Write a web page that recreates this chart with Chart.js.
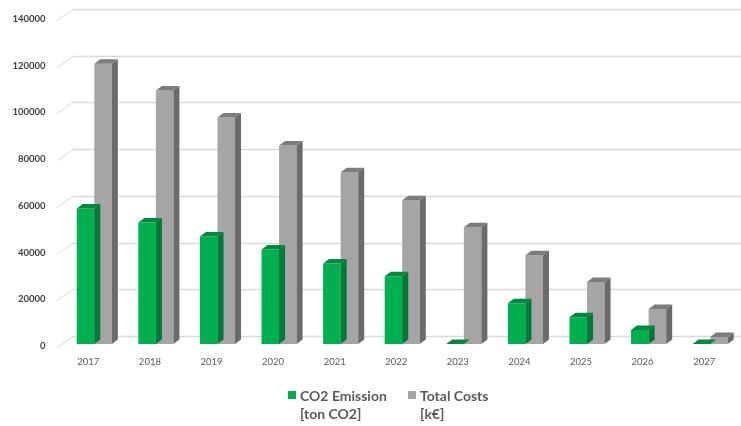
<!DOCTYPE html>
<html>
<head>
<meta charset="utf-8">
<script src="https://cdn.jsdelivr.net/npm/chart.js@4.4.0/dist/chart.umd.min.js"></script>
<style>
html, body { margin: 0; padding: 0; background: #fff; }
</style>
</head>
<body>
<canvas id="chartcanvas" width="741" height="426"></canvas>
<script>
var years = ["2017","2018","2019","2020","2021","2022","2023","2024","2025","2026","2027"];
var co2Emission = [58000, 52000, 46000, 40500, 34500, 29000, 0, 17500, 11500, 6000, 0];
var totalCosts = [120000, 108500, 97000, 85000, 73500, 61500, 50000, 38000, 26500, 15000, 3000];
var yTicks = [0, 20000, 40000, 60000, 80000, 100000, 120000, 140000];
var legendLines = [["CO2 Emission", "[ton CO2]"], ["Total Costs", "[k€]"]];

// 3d depth of the bars
var DX = 6, DY = -4.5;

// back wall grid lines, drawn behind the bars
var backWall = {
	id: "backWall",
	beforeDatasetsDraw: function(chart) {
		var ctx = chart.ctx;
		var y = chart.scales.y;
		ctx.save();
		for (var i = 0; i < yTicks.length; i++) {
			var yb = Math.round(y.getPixelForValue(yTicks[i]) - 8) + 0.5;
			ctx.strokeStyle = "#d9d9d9";
			ctx.lineWidth = 1.6;
			ctx.beginPath();
			ctx.moveTo(73, yb);
			ctx.lineTo(chart.width, yb);
			ctx.stroke();
			ctx.lineWidth = 1;
			ctx.beginPath();
			ctx.moveTo(57, yb + 11);
			ctx.lineTo(73, yb);
			ctx.stroke();
		}
		ctx.restore();
	}
};

// side and top faces for every bar
var barDepth = {
	id: "barDepth",
	afterDatasetDraw: function(chart, args) {
		var ctx = chart.ctx;
		var ds = chart.data.datasets[args.index];
		ctx.save();
		args.meta.data.forEach(function(bar) {
			var p = bar.getProps(["x", "y", "base", "width"], true);
			var l = p.x - p.width / 2, r = p.x + p.width / 2;
			var t = Math.min(p.y, p.base), b = Math.max(p.y, p.base);
			ctx.fillStyle = ds.sideColor;
			ctx.beginPath();
			ctx.moveTo(r, t);
			ctx.lineTo(r + DX, t + DY);
			ctx.lineTo(r + DX, b + DY);
			ctx.lineTo(r, b);
			ctx.closePath();
			ctx.fill();
			ctx.fillStyle = ds.topColor;
			ctx.beginPath();
			ctx.moveTo(l, t);
			ctx.lineTo(l + DX, t + DY);
			ctx.lineTo(r + DX, t + DY);
			ctx.lineTo(r, t);
			ctx.closePath();
			ctx.fill();
		});
		ctx.restore();
	}
};

// two-line legend under the chart
var legendBox = {
	id: "legendBox",
	afterDraw: function(chart) {
		var ctx = chart.ctx;
		var xs = [288, 408];
		ctx.save();
		ctx.font = "bold 14px Lato";
		ctx.textBaseline = "middle";
		for (var i = 0; i < legendLines.length; i++) {
			ctx.fillStyle = chart.data.datasets[i].backgroundColor;
			ctx.fillRect(xs[i], 391, 8, 8);
			ctx.fillStyle = "#595959";
			ctx.fillText(legendLines[i][0], xs[i] + 12, 396);
			ctx.fillText(legendLines[i][1], xs[i] + 12, 414);
		}
		ctx.restore();
	}
};

var ctx = document.getElementById("chartcanvas").getContext("2d");
var myChart = new Chart(ctx, {
	type: "bar",
	data: {
		labels: years,
		datasets: [
			{
				label: "CO2 Emission [ton CO2]",
				data: co2Emission,
				backgroundColor: "#00b050",
				sideColor: "#007a38",
				topColor: "#008a3e",
				borderWidth: 0,
				barPercentage: 1,
				categoryPercentage: 0.57
			},
			{
				label: "Total Costs [k€]",
				data: totalCosts,
				backgroundColor: "#a5a5a5",
				sideColor: "#6b6b6b",
				topColor: "#7c7c7c",
				borderWidth: 0,
				barPercentage: 1,
				categoryPercentage: 0.57
			}
		]
	},
	options: {
		responsive: false,
		animation: false,
		layout: { padding: { top: 17, right: 0, bottom: 54, left: 0 } },
		plugins: {
			legend: { display: false },
			tooltip: { enabled: false }
		},
		scales: {
			x: {
				grid: { display: false, drawTicks: false },
				border: { display: false },
				ticks: { color: "#595959", font: { family: "Lato", size: 9.5 }, padding: 12, labelOffset: -6, maxRotation: 0 },
				afterFit: function(s) { s.height = 28; s.paddingLeft = 0; s.paddingRight = 0; }
			},
			y: {
				min: 0,
				max: 140000,
				grid: { display: false, drawTicks: false },
				border: { display: false },
				ticks: {
					stepSize: 20000,
					color: "#404040",
					font: { family: "Lato", size: 9.5, weight: "bold" },
					padding: 18,
					labelOffset: 2,
					callback: function(v) { return String(v); }
				},
				afterFit: function(s) { s.width = 63.5; s.paddingTop = 0; s.paddingBottom = 0; }
			}
		}
	},
	plugins: [backWall, barDepth, legendBox]
});
</script>
</body>
</html>
